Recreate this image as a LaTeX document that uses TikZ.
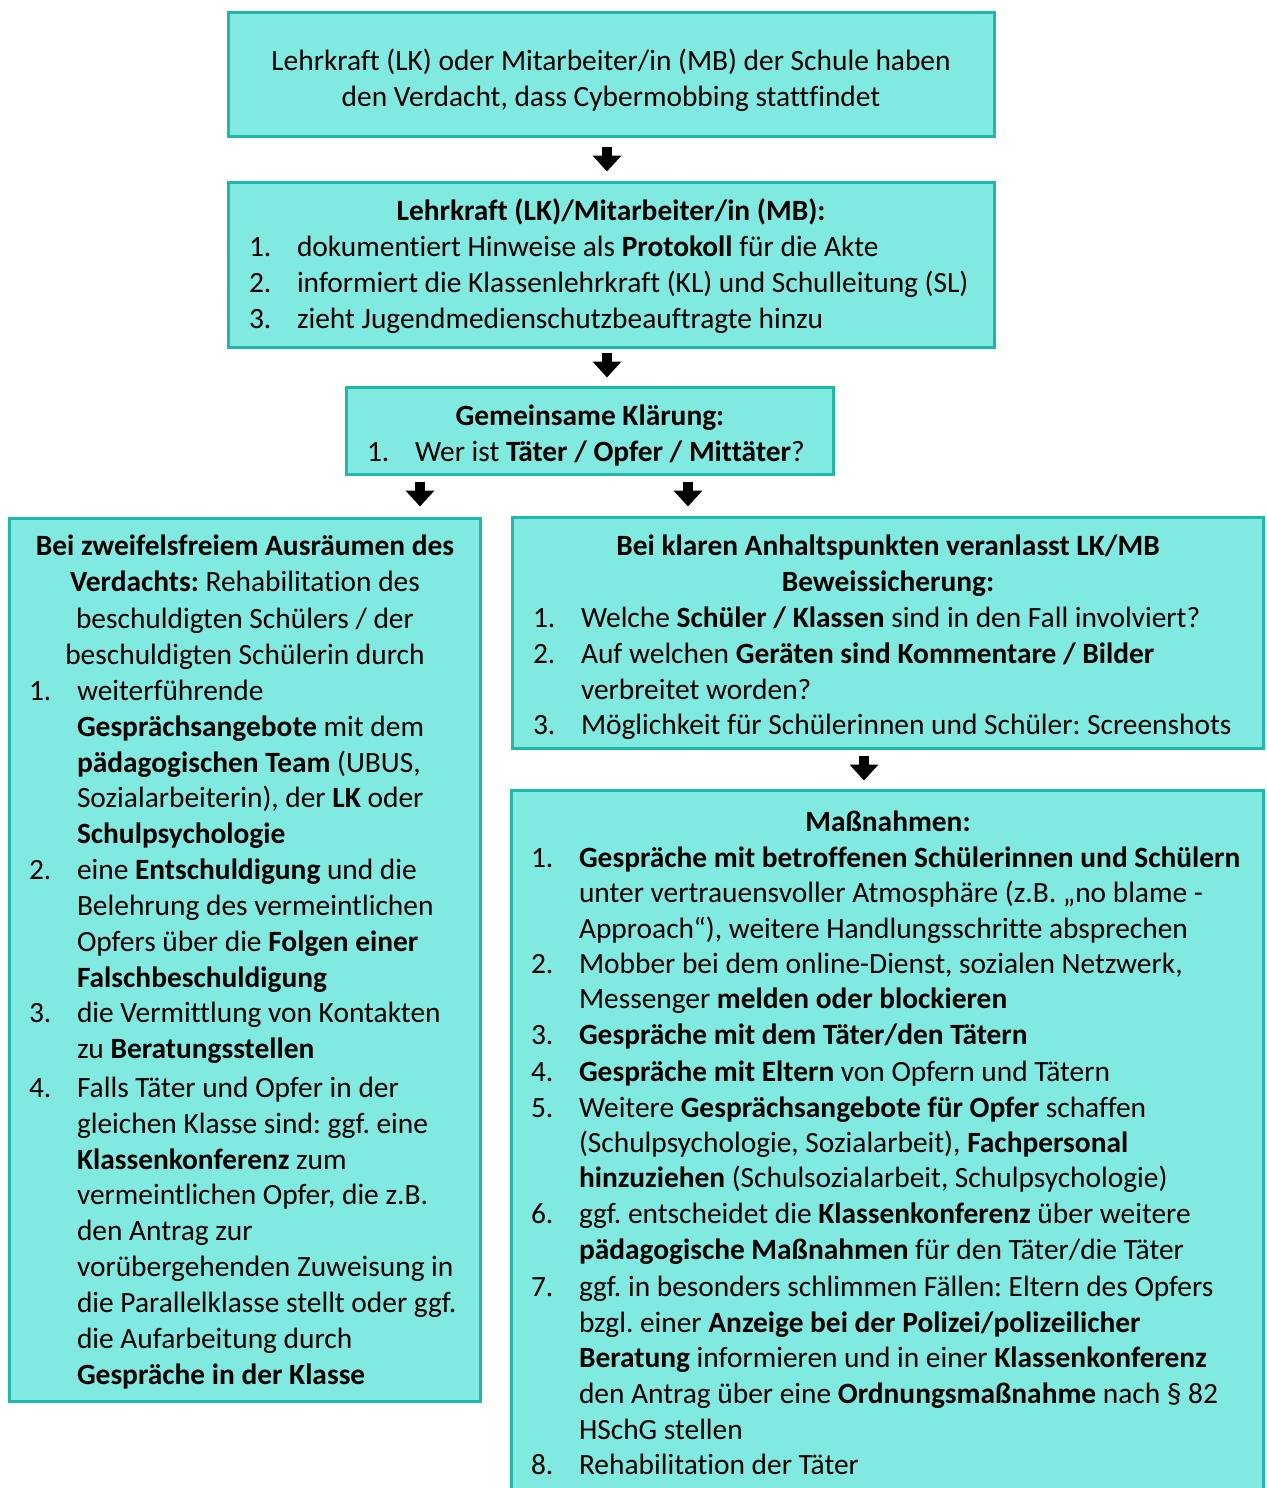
\documentclass[tikz,border=0pt]{standalone}
\usepackage{fontspec}
\setmainfont[Ligatures=NoCommon]{Carlito}
\usetikzlibrary{arrows.meta,fit,calc}
\definecolor{boxfill}{HTML}{80E9E0}
\definecolor{boxline}{HTML}{1FB8AB}
\tikzset{
  box/.style={draw=boxline, fill=boxfill, line width=1.5pt, inner sep=0pt, rectangle},
  txt/.style={inner sep=0pt, outer sep=0pt, font=\fontsize{14.7pt}{18pt}\selectfont\frenchspacing},
  lt/.style={txt, anchor=base west},
  ct/.style={txt, anchor=base},
  blk/.style={line width=5pt, -{Triangle[width=14pt,length=8pt]}, black}
}
\begin{document}
\begin{tikzpicture}[x=0.5pt,y=-0.5pt]
\useasboundingbox (0,0) rectangle (1266,1488);
% boxes
\node[box, fit={(228.5,12.5)(994.5,136.5)}] (b1) {};
\node[box, fit={(228.5,182.5)(994.5,347.5)}] (b2) {};
\node[box, fit={(346.5,387.5)(833.5,474.5)}] (b3) {};
\node[box, fit={(9.5,518.5)(480.5,1401.5)}] (bl) {};
\node[box, fit={(512.5,517.5)(1263.5,748.5)}] (br1) {};
\node[box, fit={(511.5,790.5)(1263.5,1500)}] (br2) {};
% arrows
\draw[blk] ($(b1.south)+(-4.5,8.5)$) -- ($(b2.north)+(-4.5,-9.5)$);
\draw[blk] ($(b2.south)+(-4.5,3.5)$) -- ($(b3.north)+(17,-8.5)$);
\draw[blk] ($(b3.south)+(-170,5.5)$) -- ($(bl.north)+(175,-10.5)$);
\draw[blk] ($(b3.south)+(98,5.5)$) -- ($(br1.north)+(-200,-9.5)$);
\draw[blk] ($(br1.south)+(-24,5.5)$) -- ($(br2.north)+(-23.5,-8.5)$);
% box 1
\node[ct] (t1a) at (611,70) {Lehrkraft (LK) oder Mitarbeiter/in (MB) der Schule haben};
\node[ct] (t1b) at (611,106) {den Verdacht, dass Cybermobbing stattfindet};
% box 2
\node[ct] (t2t) at (611,220) {\textbf{Lehrkraft (LK)/Mitarbeiter/in (MB):}};
\node[lt] (n2a) at (249,256) {1.};
\node[lt] (t2a) at (297,256) {dokumentiert Hinweise als \textbf{Protokoll} für die Akte};
\node[lt] (n2b) at (249,292) {2.};
\node[lt] (t2b) at (297,292) {informiert die Klassenlehrkraft (KL) und Schulleitung (SL)};
\node[lt] (n2c) at (249,328) {3.};
\node[lt] (t2c) at (297,328) {zieht Jugendmedienschutzbeauftragte hinzu};
% box 3
\node[ct] (t3t) at (590,425) {\textbf{Gemeinsame Klärung:}};
\node[lt] (n3a) at (367,461) {1.};
\node[lt] (t3a) at (415,461) {Wer ist \textbf{Täter / Opfer / Mittäter}?};
% left box
\node[ct] (tl1) at (245,555) {\textbf{Bei zweifelsfreiem Ausräumen des}};
\node[ct] (tl2) at (245,591) {\textbf{Verdachts:} Rehabilitation des};
\node[ct] (tl3) at (245,628) {beschuldigten Schülers / der};
\node[ct] (tl4) at (245,664) {beschuldigten Schülerin durch};
\node[lt] (nl1) at (29,700) {1.};
\node[lt] (l01) at (77,700) {weiterführende};
\node[lt] (l02) at (77,736) {\textbf{Gesprächsangebote} mit dem};
\node[lt] (l03) at (77,772) {\textbf{pädagogischen Team} (UBUS,};
\node[lt] (l04) at (77,807) {Sozialarbeiterin), der \textbf{LK} oder};
\node[lt] (l05) at (77,843) {\textbf{Schulpsychologie}};
\node[lt] (nl2) at (29,879) {2.};
\node[lt] (l06) at (77,879) {eine \textbf{Entschuldigung} und die};
\node[lt] (l07) at (77,915) {Belehrung des vermeintlichen};
\node[lt] (l08) at (77,951) {Opfers über die \textbf{Folgen einer}};
\node[lt] (l09) at (77,987) {\textbf{Falschbeschuldigung}};
\node[lt] (nl3) at (29,1022) {3.};
\node[lt] (l10) at (77,1022) {die Vermittlung von Kontakten};
\node[lt] (l11) at (77,1058) {zu \textbf{Beratungsstellen}};
\node[lt] (nl4) at (29,1097) {4.};
\node[lt] (l12) at (77,1097) {Falls Täter und Opfer in der};
\node[lt] (l13) at (77,1133) {gleichen Klasse sind: ggf. eine};
\node[lt] (l14) at (77,1169) {\textbf{Klassenkonferenz} zum};
\node[lt] (l15) at (77,1204) {vermeintlichen Opfer, die z.B.};
\node[lt] (l16) at (77,1240) {den Antrag zur};
\node[lt] (l17) at (77,1276) {vorübergehenden Zuweisung in};
\node[lt] (l18) at (77,1312) {die Parallelklasse stellt oder ggf.};
\node[lt] (l19) at (77,1348) {die Aufarbeitung durch};
\node[lt] (l20) at (77,1384) {\textbf{Gespräche in der Klasse}};
% right top box
\node[ct] (tr1) at (888,555) {\textbf{Bei klaren Anhaltspunkten veranlasst LK/MB}};
\node[ct] (tr2) at (888,591) {\textbf{Beweissicherung:}};
\node[lt] (nr1) at (533,627) {1.};
\node[lt] (r01) at (581,627) {Welche \textbf{Schüler / Klassen} sind in den Fall involviert?};
\node[lt] (nr2) at (533,663) {2.};
\node[lt] (r02) at (581,663) {Auf welchen \textbf{Geräten sind Kommentare / Bilder}};
\node[lt] (r03) at (581,699) {verbreitet worden?};
\node[lt] (nr3) at (533,734) {3.};
\node[lt] (r04) at (581,734) {Möglichkeit für Schülerinnen und Schüler: Screenshots};
% right bottom box
\node[ct] (tm) at (888,831) {\textbf{Maßnahmen:}};
\node[lt] (nm1) at (531,867) {1.};
\node[lt] (m01) at (579,867) {\textbf{Gespräche mit betroffenen Schülerinnen und Schülern}};
\node[lt] (m02) at (579,902) {unter vertrauensvoller Atmosphäre (z.B. „no blame -};
\node[lt] (m03) at (579,938) {Approach“), weitere Handlungsschritte absprechen};
\node[lt] (nm2) at (531,973) {2.};
\node[lt] (m04) at (579,973) {Mobber bei dem online-Dienst, sozialen Netzwerk,};
\node[lt] (m05) at (579,1008) {Messenger \textbf{melden oder blockieren}};
\node[lt] (nm3) at (531,1044) {3.};
\node[lt] (m06) at (579,1044) {\textbf{Gespräche mit dem Täter/den Tätern}};
\node[lt] (nm4) at (531,1081) {4.};
\node[lt] (m07) at (579,1081) {\textbf{Gespräche mit Eltern} von Opfern und Tätern};
\node[lt] (nm5) at (531,1117) {5.};
\node[lt] (m08) at (579,1117) {Weitere \textbf{Gesprächsangebote für Opfer} schaffen};
\node[lt] (m09) at (579,1152) {(Schulpsychologie, Sozialarbeit), \textbf{Fachpersonal}};
\node[lt] (m10) at (579,1187) {\textbf{hinzuziehen} (Schulsozialarbeit, Schulpsychologie)};
\node[lt] (nm6) at (531,1223) {6.};
\node[lt] (m11) at (579,1223) {ggf. entscheidet die \textbf{Klassenkonferenz} über weitere};
\node[lt] (m12) at (579,1259) {\textbf{pädagogische Maßnahmen} für den Täter/die Täter};
\node[lt] (nm7) at (531,1296) {7.};
\node[lt] (m13) at (579,1296) {ggf. in besonders schlimmen Fällen: Eltern des Opfers};
\node[lt] (m14) at (579,1332) {bzgl. einer \textbf{Anzeige bei der Polizei/polizeilicher}};
\node[lt] (m15) at (579,1367) {\textbf{Beratung} informieren und in einer \textbf{Klassenkonferenz}};
\node[lt] (m16) at (579,1403) {den Antrag über eine \textbf{Ordnungsmaßnahme} nach § 82};
\node[lt] (m17) at (579,1439) {HSchG stellen};
\node[lt] (nm8) at (531,1474) {8.};
\node[lt] (m18) at (579,1474) {Rehabilitation der Täter};
\end{tikzpicture}
\end{document}
